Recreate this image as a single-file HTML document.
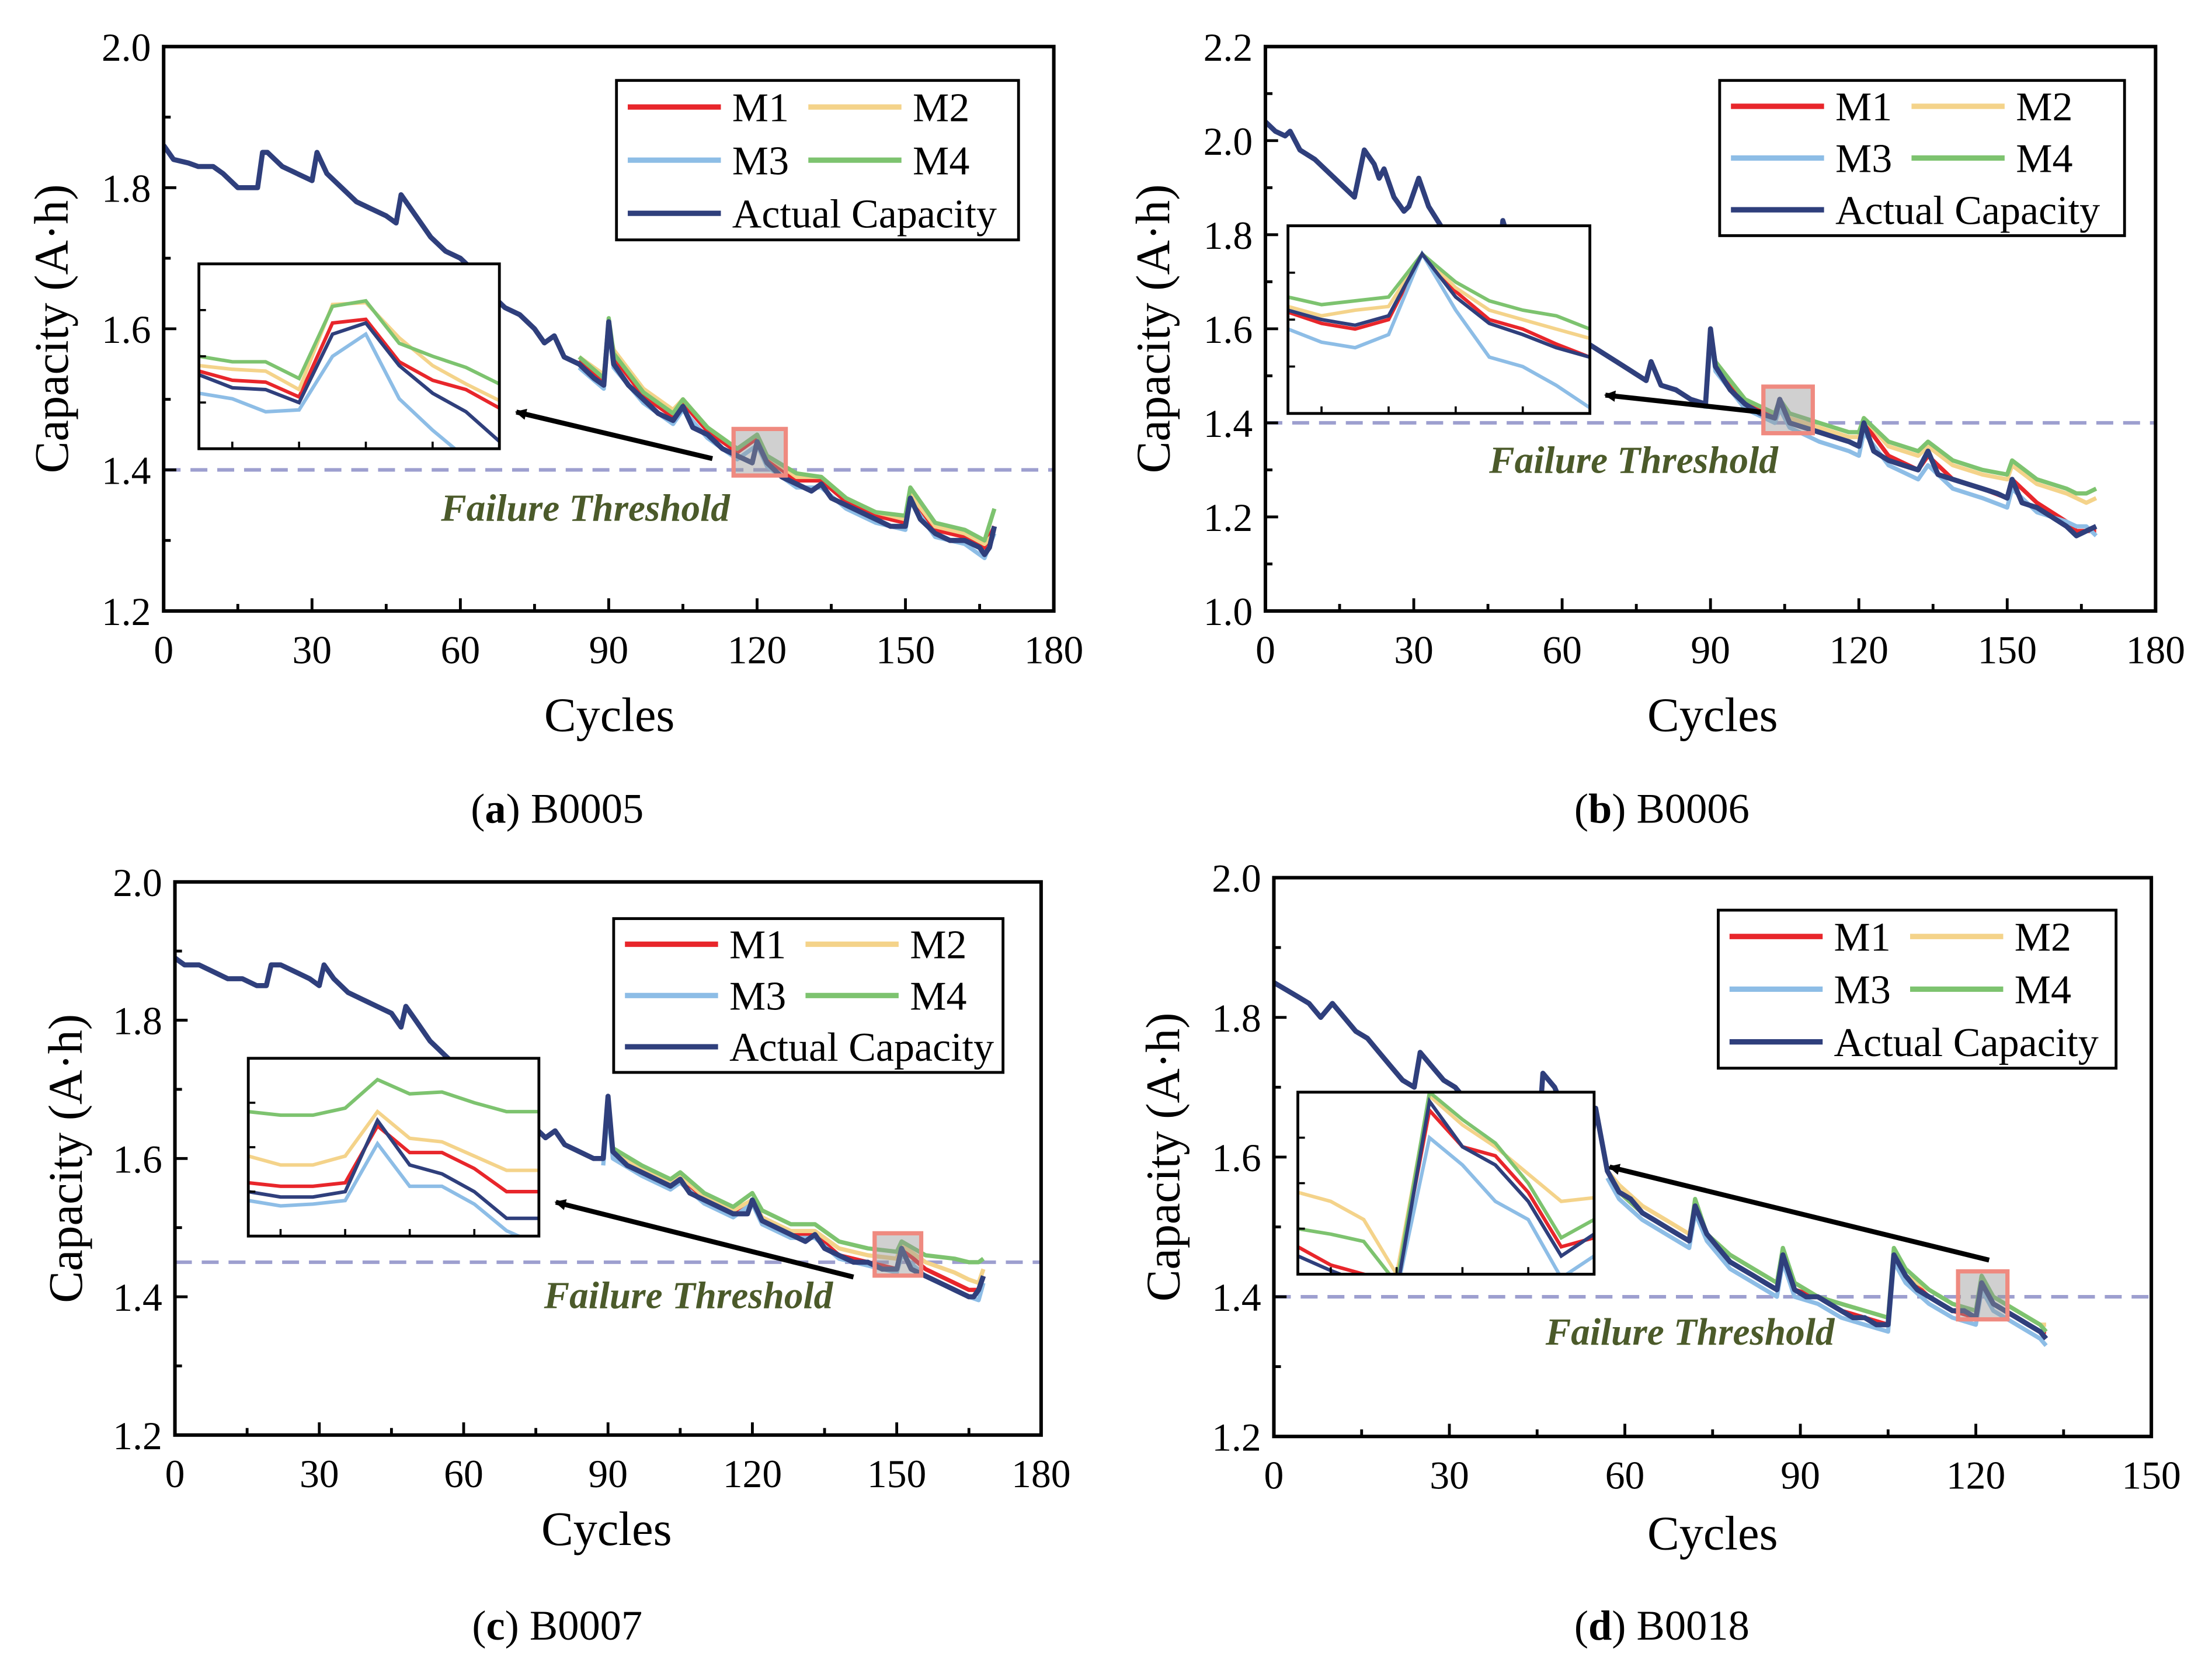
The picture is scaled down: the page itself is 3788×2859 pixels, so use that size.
<!DOCTYPE html>
<html><head><meta charset="utf-8">
<style>
html,body{margin:0;padding:0;background:#fff;}
svg{display:block;font-family:"Liberation Serif",serif;}
</style></head>
<body>
<svg id="fig" width="3788" height="2859" viewBox="0 0 1568 1183.5" preserveAspectRatio="none" xmlns="http://www.w3.org/2000/svg">
<defs>
<marker id="ah" markerWidth="8" markerHeight="8" refX="7" refY="4" orient="auto" markerUnits="userSpaceOnUse"><path d="M0,0 L8,4 L0,8 Z" fill="#000"/></marker>
</defs>
</svg>
<script>
// ---------- Panel (a) B0005 ----------
const aCycles=[0,2,5,7,10,12,15,19,20,21,24,27,30,31,33,36,39,42,45,47,48,51,54,57,60,63,66,69,72,75,77,79,81,84,87,89,90,91,94,97,100,103,105,107,110,113,116,119,120,122,125,128,131,133,135,138,141,144,147,150,151,153,156,159,162,165,166,167,168];
const aActual=[1.86,1.84,1.835,1.83,1.83,1.82,1.80,1.80,1.85,1.85,1.83,1.82,1.81,1.85,1.82,1.80,1.78,1.77,1.76,1.75,1.79,1.76,1.73,1.71,1.70,1.68,1.65,1.63,1.62,1.60,1.58,1.59,1.56,1.55,1.53,1.52,1.61,1.55,1.52,1.50,1.48,1.47,1.49,1.46,1.45,1.43,1.42,1.41,1.44,1.41,1.39,1.38,1.37,1.38,1.36,1.35,1.34,1.33,1.32,1.32,1.36,1.33,1.31,1.30,1.30,1.29,1.28,1.29,1.32];
const aPredCycles=[84,89,90,91,97,103,105,110,116,120,122,128,133,138,144,150,151,156,162,166,168];
const aM1=[1.555,1.525,1.605,1.56,1.505,1.475,1.495,1.455,1.425,1.445,1.415,1.385,1.385,1.355,1.335,1.325,1.36,1.315,1.305,1.29,1.32];
const aM2=[1.56,1.535,1.60,1.57,1.515,1.485,1.50,1.46,1.43,1.45,1.42,1.39,1.39,1.36,1.34,1.33,1.365,1.32,1.31,1.295,1.31];
const aM3=[1.545,1.515,1.60,1.545,1.495,1.465,1.485,1.445,1.415,1.435,1.405,1.375,1.375,1.345,1.325,1.315,1.355,1.305,1.295,1.275,1.31];
const aM4=[1.56,1.53,1.615,1.565,1.51,1.48,1.50,1.46,1.43,1.45,1.42,1.395,1.39,1.36,1.34,1.335,1.375,1.325,1.315,1.30,1.345];
const aInsetActual=[40,33,32,25,62,68,45,30,20,4];
const aInsetM1=[42,37,36,28,68,70,47,37,32,22];
const aInsetM2=[45,43,42,32,78,79,60,45,35,26];
const aInsetM3=[30,27,20,21,50,62,27,10,-5,-10];
const aInsetM4=[50,47,47,38,77,80,57,50,44,35];
// ---------- Panel (b) B0006 ----------
const bCycles=[0,2,4,5,7,10,13,16,18,20,22,23,24,26,28,29,31,33,36,39,42,44,46,47,48,50,53,56,59,62,65,68,71,74,77,78,80,83,86,89,90,91,94,97,100,103,104,106,109,112,115,118,120,121,123,126,129,132,134,136,139,142,145,148,150,151,153,156,159,162,164,166,168];
const bActual=[2.04,2.02,2.01,2.02,1.98,1.96,1.93,1.90,1.88,1.98,1.95,1.92,1.94,1.88,1.85,1.86,1.92,1.86,1.81,1.78,1.75,1.73,1.76,1.72,1.83,1.76,1.71,1.66,1.62,1.59,1.57,1.55,1.53,1.51,1.49,1.53,1.48,1.47,1.45,1.44,1.60,1.52,1.47,1.44,1.42,1.41,1.45,1.40,1.39,1.38,1.37,1.36,1.35,1.40,1.34,1.32,1.31,1.30,1.34,1.29,1.28,1.27,1.26,1.25,1.24,1.28,1.23,1.22,1.20,1.18,1.16,1.17,1.18];
const bPredCycles=[89,90,91,97,103,104,106,112,118,120,121,126,132,134,139,145,150,151,156,162,164,166,168];
const bM1=[1.44,1.59,1.52,1.44,1.41,1.44,1.40,1.38,1.36,1.35,1.40,1.33,1.30,1.33,1.28,1.26,1.24,1.28,1.23,1.19,1.17,1.17,1.17];
const bM2=[1.45,1.58,1.53,1.45,1.42,1.45,1.41,1.39,1.37,1.37,1.41,1.35,1.33,1.35,1.31,1.29,1.28,1.31,1.27,1.25,1.24,1.23,1.24];
const bM3=[1.43,1.58,1.51,1.43,1.40,1.43,1.39,1.36,1.34,1.33,1.38,1.31,1.28,1.31,1.26,1.24,1.22,1.26,1.21,1.19,1.18,1.18,1.16];
const bM4=[1.45,1.59,1.53,1.45,1.42,1.45,1.42,1.40,1.38,1.38,1.41,1.36,1.34,1.36,1.32,1.30,1.29,1.32,1.28,1.26,1.25,1.25,1.26];
const bInsetActual=[55,50,47,52,85,62,48,42,35,30];
const bInsetM1=[54,48,45,50,85,65,50,45,37,30];
const bInsetM2=[57,52,55,57,85,67,55,50,45,40];
const bInsetM3=[45,38,35,42,85,55,30,25,15,3];
const bInsetM4=[62,58,60,62,85,70,60,55,52,45];
// ---------- Panel (c) B0007 ----------
const cCycles=[0,2,5,8,11,14,17,19,20,22,25,28,30,31,33,36,39,42,45,47,48,50,53,56,59,62,65,68,71,74,77,79,81,84,87,89,90,91,94,97,100,103,105,107,110,113,116,119,120,122,125,128,131,133,135,138,141,144,147,150,151,153,156,159,162,165,166,167,168];
const cActual=[1.89,1.88,1.88,1.87,1.86,1.86,1.85,1.85,1.88,1.88,1.87,1.86,1.85,1.88,1.86,1.84,1.83,1.82,1.81,1.79,1.82,1.80,1.77,1.75,1.73,1.71,1.70,1.68,1.66,1.65,1.63,1.64,1.62,1.61,1.60,1.60,1.69,1.61,1.59,1.58,1.57,1.56,1.57,1.55,1.54,1.53,1.52,1.52,1.54,1.51,1.50,1.49,1.48,1.49,1.47,1.46,1.45,1.45,1.44,1.44,1.47,1.44,1.43,1.42,1.41,1.40,1.40,1.41,1.43];
const cPredCycles=[89,90,91,97,103,105,110,116,120,122,128,133,138,144,150,151,156,162,165,167,168];
const cM1=[1.60,1.68,1.61,1.58,1.56,1.57,1.54,1.52,1.54,1.51,1.49,1.49,1.46,1.45,1.44,1.47,1.44,1.42,1.41,1.41,1.43];
const cM2=[1.60,1.67,1.61,1.585,1.565,1.575,1.545,1.525,1.54,1.515,1.495,1.495,1.47,1.46,1.455,1.475,1.45,1.435,1.425,1.42,1.44];
const cM3=[1.59,1.67,1.60,1.575,1.555,1.565,1.535,1.515,1.535,1.505,1.485,1.485,1.455,1.445,1.435,1.46,1.43,1.41,1.40,1.395,1.42];
const cM4=[1.60,1.68,1.615,1.59,1.57,1.58,1.55,1.53,1.55,1.525,1.505,1.505,1.48,1.47,1.465,1.48,1.46,1.455,1.45,1.45,1.455];
const cInsetActual=[25,22,22,25,65,40,35,25,10,10];
const cInsetM1=[30,28,28,30,62,47,47,38,25,25];
const cInsetM2=[45,40,40,45,70,55,53,45,37,37];
const cInsetM3=[20,17,18,20,52,28,28,18,3,-5];
const cInsetM4=[70,68,68,72,88,80,81,75,70,70];
// ---------- Panel (d) B0018 ----------
const dCycles=[0,2,4,6,8,10,12,14,16,18,20,22,24,25,27,29,31,33,35,37,39,40,42,44,45,46,48,50,52,54,55,57,59,61,63,65,67,69,71,72,74,76,78,80,82,84,86,87,89,91,93,95,97,99,101,103,105,106,108,110,112,114,116,118,120,121,123,125,127,129,131,132];
const dActual=[1.85,1.84,1.83,1.82,1.80,1.82,1.80,1.78,1.77,1.75,1.73,1.71,1.70,1.75,1.73,1.71,1.70,1.68,1.66,1.64,1.62,1.67,1.63,1.61,1.60,1.72,1.70,1.66,1.63,1.60,1.67,1.58,1.55,1.54,1.52,1.51,1.50,1.49,1.48,1.53,1.49,1.47,1.45,1.44,1.43,1.42,1.41,1.46,1.41,1.40,1.40,1.39,1.38,1.37,1.37,1.36,1.36,1.46,1.43,1.41,1.40,1.39,1.38,1.38,1.37,1.42,1.39,1.38,1.37,1.36,1.35,1.34];
const dPredCycles=[57,59,63,67,71,72,74,78,82,86,87,89,93,97,101,105,106,108,112,116,120,121,123,127,131,132];
const dM1=[1.58,1.55,1.52,1.50,1.48,1.53,1.49,1.45,1.43,1.41,1.46,1.41,1.40,1.38,1.37,1.36,1.46,1.43,1.40,1.38,1.37,1.42,1.39,1.37,1.35,1.35];
const dM2=[1.58,1.56,1.53,1.51,1.49,1.52,1.49,1.46,1.44,1.42,1.45,1.42,1.40,1.39,1.38,1.37,1.45,1.43,1.41,1.39,1.38,1.41,1.40,1.38,1.36,1.36];
const dM3=[1.57,1.54,1.51,1.49,1.47,1.52,1.48,1.44,1.42,1.40,1.45,1.40,1.39,1.37,1.36,1.35,1.45,1.42,1.39,1.37,1.36,1.41,1.38,1.36,1.34,1.33];
const dM4=[1.58,1.55,1.52,1.50,1.48,1.54,1.49,1.46,1.44,1.42,1.47,1.42,1.40,1.39,1.38,1.37,1.47,1.44,1.41,1.39,1.38,1.43,1.40,1.38,1.36,1.35];
const dInsetActual=[10,2,-5,-10,95,70,60,40,10,22];
const dInsetM1=[15,5,0,-5,90,70,65,45,15,20];
const dInsetM2=[45,40,30,0,98,82,70,55,40,42];
const dInsetM3=[0,-5,-10,-10,75,60,40,30,-2,10];
const dInsetM4=[25,22,18,-5,100,85,72,50,20,30];
// tick labels
const xTicks180=[0,30,60,90,120,150,180];
const xTicks150=[0,30,60,90,120,150];
const yTicksA=[1.2,1.4,1.6,1.8,2.0];
const yTicksB=[1.0,1.2,1.4,1.6,1.8,2.0,2.2];
const thresholds=[1.4,1.4,1.45,1.4];

const C={m1:'#e8262b',m2:'#f4d38a',m3:'#8dbde6',m4:'#7dc36f',act:'#2f3f7c'};
const NS='http://www.w3.org/2000/svg';
const svg=document.getElementById('fig');
function el(t,a,p){const e=document.createElementNS(NS,t);for(const k in a)e.setAttribute(k,a[k]);(p||svg).appendChild(e);return e;}

const panels=[
 {id:'a',box:[116,33,747,433],xd:[0,180],yd:[1.2,2.0],xt:xTicks180,yt:yTicksA,thr:thresholds[0],cyc:aCycles,act:aActual,pc:aPredCycles,m:[aM1,aM2,aM3,aM4],ins:[aInsetM1,aInsetM2,aInsetM3,aInsetM4,aInsetActual],
  inset:[141,187,354,318],arrow:[505,325,366,292],zoom:[520,304,557,337],ft:[415,369],leg:[437,57,722,170],cap:[395,583],capL:'a',capT:' B0005',xl:[432,518],yl:[48,233]},
 {id:'b',box:[897,33,1528,433],xd:[0,180],yd:[1.0,2.2],xt:xTicks180,yt:yTicksB,thr:thresholds[1],cyc:bCycles,act:bActual,pc:bPredCycles,m:[bM1,bM2,bM3,bM4],ins:[bInsetM1,bInsetM2,bInsetM3,bInsetM4,bInsetActual],
  inset:[913,160,1127,293],arrow:[1248,292,1138,280],zoom:[1250,274,1285,307],ft:[1158,335],leg:[1219,57,1506,167],cap:[1178,583],capL:'b',capT:' B0006',xl:[1214,518],yl:[829,233]},
 {id:'c',box:[124,625,738,1017],xd:[0,180],yd:[1.2,2.0],xt:xTicks180,yt:yTicksA,thr:thresholds[2],cyc:cCycles,act:cActual,pc:cPredCycles,m:[cM1,cM2,cM3,cM4],ins:[cInsetM1,cInsetM2,cInsetM3,cInsetM4,cInsetActual],
  inset:[176,750,382,876],arrow:[605,905,394,852],zoom:[620,874,653,904],ft:[488,927],leg:[435,651,711,760],cap:[395,1162],capL:'c',capT:' B0007',xl:[430,1095],yl:[58,821]},
 {id:'d',box:[903,622,1525,1018],xd:[0,150],yd:[1.2,2.0],xt:xTicks150,yt:yTicksA,thr:thresholds[3],cyc:dCycles,act:dActual,pc:dPredCycles,m:[dM1,dM2,dM3,dM4],ins:[dInsetM1,dInsetM2,dInsetM3,dInsetM4,dInsetActual],
  inset:[920,774,1130,903],arrow:[1410,893,1141,827],zoom:[1388,901,1423,935],ft:[1198,953],leg:[1218,645,1500,757],cap:[1178,1162],capL:'d',capT:' B0018',xl:[1214,1098],yl:[836,820]}
];

function fmt(v){return v.toFixed(1);}
panels.forEach(P=>{
 const g=el('g',{});
 
 
 const [x0,y0,x1,y1]=P.box;
 const sx=v=>x0+(v-P.xd[0])/(P.xd[1]-P.xd[0])*(x1-x0);
 const sy=v=>y1-(v-P.yd[0])/(P.yd[1]-P.yd[0])*(y1-y0);
 const clipId='clip'+P.id;
 const cp=el('clipPath',{id:clipId},g);el('rect',{x:x0,y:y0,width:x1-x0,height:y1-y0},cp);
 const th=el('line',{x1:x0,x2:x1,y1:sy(P.thr),y2:sy(P.thr),stroke:'#9d9fcf','stroke-width':2.5,'stroke-dasharray':'12,7'},g);
 
 
 const sers=[['m1',0],['m2',1],['m3',2],['m4',3]];
 const sg=el('g',{'clip-path':'url(#'+clipId+')'},g);
 sers.forEach(([k,i])=>{
  const pts=P.pc.map((c,j)=>sx(c).toFixed(1)+','+sy(P.m[i][j]).toFixed(1)).join(' ');
  const pl=el('polyline',{points:pts,fill:'none',stroke:C[k],'stroke-width':3,'stroke-linejoin':'round'},sg);
  
  
 });
 const apts=P.cyc.map((c,j)=>sx(c).toFixed(1)+','+sy(P.act[j]).toFixed(1)).join(' ');
 const al=el('polyline',{points:apts,fill:'none',stroke:C.act,'stroke-width':3.6,'stroke-linejoin':'round'},sg);
 
 
 const fr=el('rect',{x:x0,y:y0,width:x1-x0,height:y1-y0,fill:'none',stroke:'#000','stroke-width':2.5},g);
 
 
 const xstep=P.xt[1]-P.xt[0];
 for(let i=0;i<P.xt.length;i++){
  const v=P.xt[i],X=sx(v);
  el('line',{x1:X,x2:X,y1:y1,y2:y1-9,stroke:'#000','stroke-width':2},g);
  if(i<P.xt.length-1){const Xm=sx(v+xstep/2);el('line',{x1:Xm,x2:Xm,y1:y1,y2:y1-5,stroke:'#000','stroke-width':2},g);}
  const t=el('text',{x:X,y:y1+37,'font-size':28,'text-anchor':'middle'},g);t.textContent=v;
  
  
 }
 const ystep=P.yt[1]-P.yt[0];
 for(let i=0;i<P.yt.length;i++){
  const v=P.yt[i],Y=sy(v);
  el('line',{x1:x0,x2:x0+9,y1:Y,y2:Y,stroke:'#000','stroke-width':2},g);
  if(i<P.yt.length-1){const Ym=sy(v+ystep/2);el('line',{x1:x0,x2:x0+5,y1:Ym,y2:Ym,stroke:'#000','stroke-width':2},g);}
  const t=el('text',{x:x0-9,y:Y+10,'font-size':28,'text-anchor':'end'},g);t.textContent=fmt(v);
  
  
 }
 const xt=el('text',{x:P.xl[0],y:P.xl[1],'font-size':34,'text-anchor':'middle'},g);xt.textContent='Cycles';
 
 
 const yt=el('text',{x:0,y:0,'font-size':34,'text-anchor':'middle',transform:'translate('+P.yl[0]+','+P.yl[1]+') rotate(-90)'},g);yt.textContent='Capacity (A·h)';
 
 
 const zb=el('rect',{x:P.zoom[0],y:P.zoom[1],width:P.zoom[2]-P.zoom[0],height:P.zoom[3]-P.zoom[1],fill:'rgba(150,150,150,0.45)',stroke:'#ef8a80','stroke-width':3},g);
 
 
 const ar=el('line',{x1:P.arrow[0],y1:P.arrow[1],x2:P.arrow[2],y2:P.arrow[3],stroke:'#000','stroke-width':3.5,'marker-end':'url(#ah)'},g);
 
 
 const ft=el('text',{x:P.ft[0],y:P.ft[1],'font-size':27,'font-weight':'bold','font-style':'italic',fill:'#4b5a2a','text-anchor':'middle'},g);ft.textContent='Failure Threshold';
 
 
 const [ix0,iy0,ix1,iy1]=P.inset;
 const ig=el('g',{},g);
 
 
 el('rect',{x:ix0,y:iy0,width:ix1-ix0,height:iy1-iy0,fill:'#fff'},ig);
 const icp=el('clipPath',{id:'iclip'+P.id},ig);el('rect',{x:ix0,y:iy0,width:ix1-ix0,height:iy1-iy0},icp);
 const ic=el('g',{'clip-path':'url(#iclip'+P.id+')'},ig);
 const n=P.ins[0].length;
 const isx=i=>ix0+i/(n-1)*(ix1-ix0), isy=v=>iy1-v/100*(iy1-iy0);
 ['m1','m2','m3','m4','act'].forEach((k,i)=>{
  const pts=P.ins[i].map((v,j)=>isx(j).toFixed(1)+','+isy(v).toFixed(1)).join(' ');
  const pl=el('polyline',{points:pts,fill:'none',stroke:C[k],'stroke-width':2.5},ic);
  
  
 });
 for(let j=1;j<n-1;j+=2){el('line',{x1:isx(j),x2:isx(j),y1:iy1,y2:iy1-5,stroke:'#000','stroke-width':1.5},ig);}
 for(let j=1;j<4;j++){const Y=iy0+j*(iy1-iy0)/4;el('line',{x1:ix0,x2:ix0+5,y1:Y,y2:Y,stroke:'#000','stroke-width':1.5},ig);}
 el('rect',{x:ix0,y:iy0,width:ix1-ix0,height:iy1-iy0,fill:'none',stroke:'#000','stroke-width':2},ig);
 const [lx0,ly0,lx1,ly1]=P.leg;
 const lg=el('g',{},g);
 
 
 el('rect',{x:lx0,y:ly0,width:lx1-lx0,height:ly1-ly0,fill:'#fff',stroke:'#000','stroke-width':2},lg);
 const rh=(ly1-ly0)/3;
 const ents=[['m1','M1',0,0],['m2','M2',1,0],['m3','M3',0,1],['m4','M4',1,1],['act','Actual Capacity',0,2]];
 ents.forEach(([k,lab,col,row])=>{
  const cx=lx0+8+col*128, cy=ly0+rh*(row+0.5);
  const e=el('g',{},lg);
  
  
  el('line',{x1:cx,x2:cx+66,y1:cy,y2:cy,stroke:C[k],'stroke-width':3.8},e);
  const t=el('text',{x:cx+74,y:cy+10,'font-size':29},e);t.textContent=lab;
 });
 const cap=el('text',{x:P.cap[0],y:P.cap[1],'font-size':30,'text-anchor':'middle'},g);
 
 
 const t1=el('tspan',{},cap);t1.textContent='(';
 const t2=el('tspan',{'font-weight':'bold'},cap);t2.textContent=P.capL;
 const t3=el('tspan',{},cap);t3.textContent=')'+P.capT;
});
</script>
</body></html>
